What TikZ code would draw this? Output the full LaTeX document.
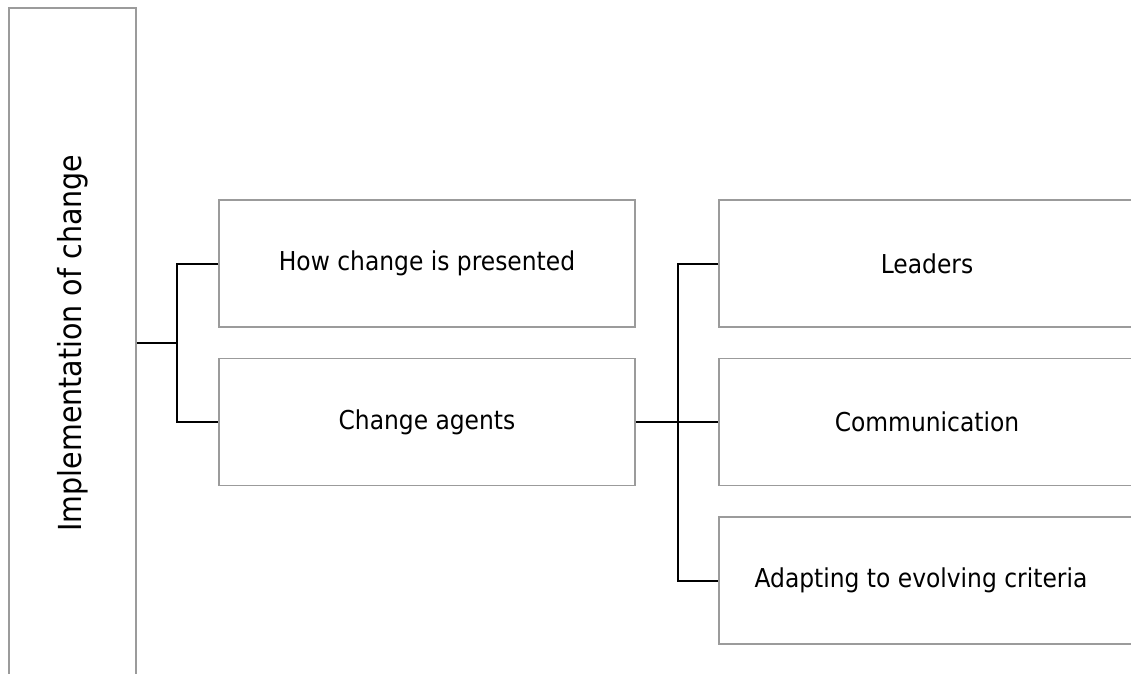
\documentclass[tikz,border=0pt]{standalone}
\usepackage{fontspec}
\setmainfont{DejaVu Sans Condensed}
\usepackage{tikz}

\definecolor{boxgray}{RGB}{155,155,155}
\tikzset{
	box/.style={draw=boxgray, line width=1.3pt, minimum width=416, minimum height=127, inner sep=0pt, font=\fontsize{26}{30}\selectfont},
	link/.style={line width=2pt}
}

\begin{document}
\begin{tikzpicture}[x=1pt,y=1pt]
	\useasboundingbox (0,0) rectangle (1131,673);
	\clip (0,0) rectangle (1131,673);

	\node [box, minimum width=127, minimum height=670] (impl) at (72.5,330) {};
	\node [rotate=90, font=\fontsize{31.7}{36}\selectfont] (impltext) at (impl.center) {Implementation of change};

	\node [box] (pres) at (427,409.5) {How change is presented};
	\node [box] (agents) at (427,251) {Change agents};

	\node [box] (lead) at (927,409.5) {Leaders};
	\node [box] (comm) at (927,251) {Communication};
	\node [box] (adapt) at (927,92.5) {Adapting to evolving criteria\hspace*{12pt}};

	\coordinate (hubA) at (177,330);
	\coordinate (hubB) at (678,251);

	\draw[link] (impl.east |- hubA) -- (hubA);
	\draw[link] (pres.west) -| (hubA) |- (agents.west);

	\draw[link] (agents.east) -- (hubB) -- (comm.west);
	\draw[link] (lead.west) -| (hubB) |- (adapt.west);
\end{tikzpicture}
\end{document}
